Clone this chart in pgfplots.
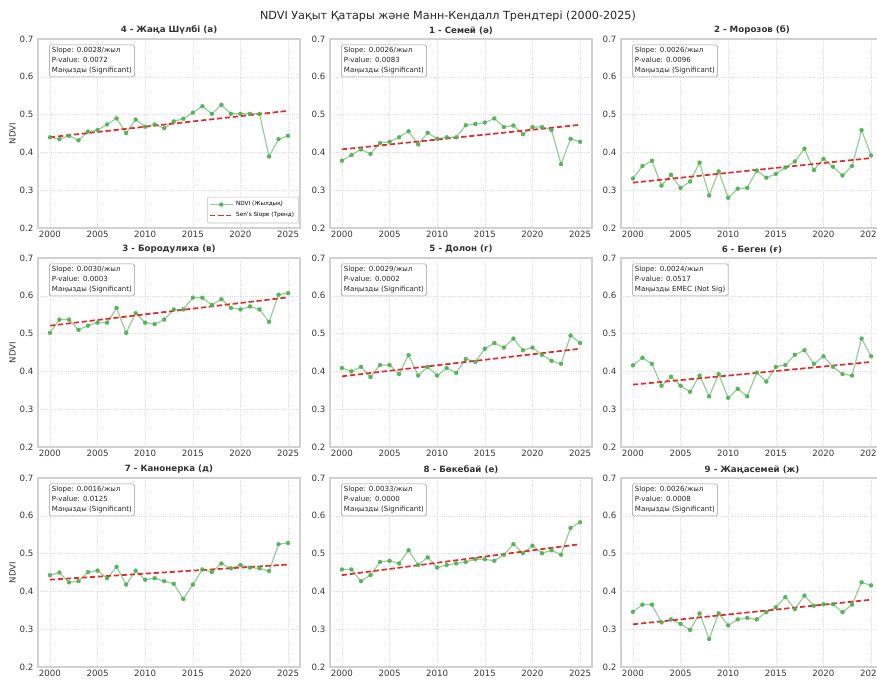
\documentclass[border=0pt]{standalone}
\usepackage{fontspec}
\setmainfont{DejaVu Sans}
\usepackage{pgfplots}
\usepackage{pgfplotstable}
\pgfplotsset{compat=1.18}

\definecolor{ndvigreen}{RGB}{76,175,80}
\definecolor{trendred}{RGB}{226,45,45}

% year, panels in drawing order
\pgfplotstableread{
year a b c d e f g h i
2000 0.440 0.378 0.331 0.502 0.409 0.416 0.443 0.458 0.346
2001 0.435 0.393 0.364 0.537 0.400 0.436 0.450 0.458 0.365
2002 0.444 0.408 0.378 0.537 0.412 0.420 0.424 0.427 0.365
2003 0.432 0.396 0.312 0.510 0.385 0.362 0.427 0.443 0.318
2004 0.455 0.425 0.341 0.521 0.417 0.386 0.451 0.478 0.326
2005 0.459 0.428 0.306 0.529 0.417 0.362 0.455 0.481 0.314
2006 0.474 0.440 0.323 0.529 0.393 0.346 0.435 0.474 0.298
2007 0.490 0.456 0.373 0.568 0.443 0.389 0.465 0.509 0.342
2008 0.451 0.421 0.286 0.502 0.389 0.334 0.418 0.470 0.274
2009 0.487 0.452 0.350 0.554 0.412 0.393 0.455 0.490 0.342
2010 0.468 0.436 0.280 0.529 0.389 0.330 0.431 0.463 0.310
2011 0.474 0.440 0.304 0.525 0.409 0.354 0.435 0.470 0.326
2012 0.464 0.440 0.306 0.537 0.396 0.334 0.427 0.474 0.330
2013 0.482 0.472 0.352 0.564 0.433 0.397 0.420 0.478 0.326
2014 0.489 0.475 0.333 0.564 0.425 0.373 0.380 0.485 0.345
2015 0.505 0.479 0.343 0.595 0.460 0.412 0.418 0.485 0.358
2016 0.522 0.490 0.360 0.595 0.475 0.417 0.458 0.481 0.385
2017 0.502 0.467 0.376 0.576 0.463 0.444 0.451 0.497 0.353
2018 0.526 0.471 0.410 0.591 0.487 0.456 0.474 0.525 0.389
2019 0.502 0.448 0.353 0.568 0.456 0.420 0.461 0.501 0.362
2020 0.502 0.467 0.383 0.564 0.463 0.440 0.470 0.521 0.366
2021 0.502 0.467 0.362 0.572 0.444 0.412 0.463 0.501 0.366
2022 0.502 0.459 0.339 0.564 0.428 0.393 0.461 0.509 0.345
2023 0.389 0.369 0.364 0.531 0.420 0.389 0.454 0.497 0.365
2024 0.435 0.436 0.459 0.603 0.495 0.487 0.525 0.568 0.424
2025 0.444 0.428 0.392 0.607 0.475 0.440 0.528 0.583 0.416
}\ndvidata

\pgfplotsset{
  panel/.style={
    scale only axis, width=196.5pt, height=141.75pt,
    anchor=north west,
    xmin=1998.75, xmax=2026.25, ymin=0.2, ymax=0.7,
    xtick={2000,2005,2010,2015,2020,2025},
    ytick={0.2,0.3,0.4,0.5,0.6,0.7},
    grid=major,
    grid style={densely dotted, black!12, line width=0.4pt},
    axis line style={black!18, line width=0.8pt},
    major tick length=0pt,
    tick style={draw=none},
    /pgf/number format/assume math mode=true,
    ticklabel style={font=\fontsize{6.5}{7}\selectfont, text=black!78},
    xticklabel style={/pgf/number format/1000 sep={}, yshift=1pt},
    yticklabel style={/pgf/number format/.cd, fixed, precision=1, fixed zerofill},
    title style={font=\bfseries\fontsize{6.5}{7}\selectfont, text=black!80, yshift=-6pt},
    ylabel style={font=\fontsize{6.4}{7}\selectfont, text=black!80},
    ylabel shift=-4pt,
    clip=false,
  },
  ndvi/.style={color=ndvigreen, line width=0.9pt, draw opacity=0.6, mark=*, mark size=1.5pt, mark options={fill=ndvigreen, draw=ndvigreen, line width=0.2pt, opacity=0.9}},
  trend/.style={color=trendred, line width=1.3pt, dash pattern=on 4pt off 2pt, no marks},
}

\newcommand{\statbox}[3]{%
  \node[anchor=north west, draw=black!40, fill=white, rounded corners=1.2pt,
        inner sep=2pt, align=left, font=\fontsize{5.3}{7.4}\selectfont, text=black!85]
    at (rel axis cs:0.042,0.97) {Slope: #1/жыл\\P-value: #2\\#3};}

\begin{document}
\begin{tikzpicture}

\node[font=\fontsize{8.4}{10}\selectfont, text=black!85] at (336pt,-12.5pt)
  {NDVI Уақыт Қатары және Манн-Кендалл Трендтері (2000-2025)};

% ---------- row 1 ----------
\begin{axis}[panel, at={(28.5pt,-29.25pt)}, title={4 - Жаңа Шүлбі (а)}, ylabel={NDVI},
  legend style={at={(0.995,0.025)}, anchor=south east, font=\fontsize{4.3}{5}\selectfont,
    draw=black!25, rounded corners=1pt, inner sep=1.2pt, row sep=-0.5pt},
  legend cell align=left]
\addplot[ndvi] table[x=year,y=a]{\ndvidata};
\addlegendentry{NDVI (Жылдық)}
\addplot[trend] coordinates {(2000,0.440) (2025,0.510)};
\addlegendentry{Sen's Slope (Тренд)}
\statbox{0.0028}{0.0072}{Маңызды (Significant)}
\end{axis}

\begin{axis}[panel, at={(247.5pt,-29.25pt)}, title={1 - Семей (ә)}]
\addplot[ndvi] table[x=year,y=b]{\ndvidata};
\addplot[trend] coordinates {(2000,0.408) (2025,0.473)};
\statbox{0.0026}{0.0083}{Маңызды (Significant)}
\end{axis}

\begin{axis}[panel, at={(465.75pt,-29.25pt)}, title={2 - Морозов (б)}]
\addplot[ndvi] table[x=year,y=c]{\ndvidata};
\addplot[trend] coordinates {(2000,0.320) (2025,0.385)};
\statbox{0.0026}{0.0096}{Маңызды (Significant)}
\end{axis}

% ---------- row 2 ----------
\begin{axis}[panel, at={(28.5pt,-193.5pt)}, title={3 - Бородулиха (в)}, ylabel={NDVI}]
\addplot[ndvi] table[x=year,y=d]{\ndvidata};
\addplot[trend] coordinates {(2000,0.521) (2025,0.596)};
\statbox{0.0030}{0.0003}{Маңызды (Significant)}
\end{axis}

\begin{axis}[panel, at={(247.5pt,-193.5pt)}, title={5 - Долон (г)}]
\addplot[ndvi] table[x=year,y=e]{\ndvidata};
\addplot[trend] coordinates {(2000,0.387) (2025,0.460)};
\statbox{0.0029}{0.0002}{Маңызды (Significant)}
\end{axis}

\begin{axis}[panel, at={(465.75pt,-193.5pt)}, title={6 - Беген (ғ)}]
\addplot[ndvi] table[x=year,y=f]{\ndvidata};
\addplot[trend] coordinates {(2000,0.365) (2025,0.425)};
\statbox{0.0024}{0.0517}{Маңызды ЕМЕС (Not Sig)}
\end{axis}

% ---------- row 3 ----------
\begin{axis}[panel, at={(28.5pt,-358.5pt)}, title={7 - Канонерка (д)}, ylabel={NDVI}]
\addplot[ndvi] table[x=year,y=g]{\ndvidata};
\addplot[trend] coordinates {(2000,0.431) (2025,0.471)};
\statbox{0.0016}{0.0125}{Маңызды (Significant)}
\end{axis}

\begin{axis}[panel, at={(247.5pt,-358.5pt)}, title={8 - Бөкебай (е)}]
\addplot[ndvi] table[x=year,y=h]{\ndvidata};
\addplot[trend] coordinates {(2000,0.443) (2025,0.525)};
\statbox{0.0033}{0.0000}{Маңызды (Significant)}
\end{axis}

\begin{axis}[panel, at={(465.75pt,-358.5pt)}, title={9 - Жаңасемей (ж)}]
\addplot[ndvi] table[x=year,y=i]{\ndvidata};
\addplot[trend] coordinates {(2000,0.313) (2025,0.378)};
\statbox{0.0026}{0.0008}{Маңызды (Significant)}
\end{axis}

\pgfresetboundingbox
\path[use as bounding box] (0pt,0pt) rectangle (657.75pt,-509.25pt);
\end{tikzpicture}
\end{document}
